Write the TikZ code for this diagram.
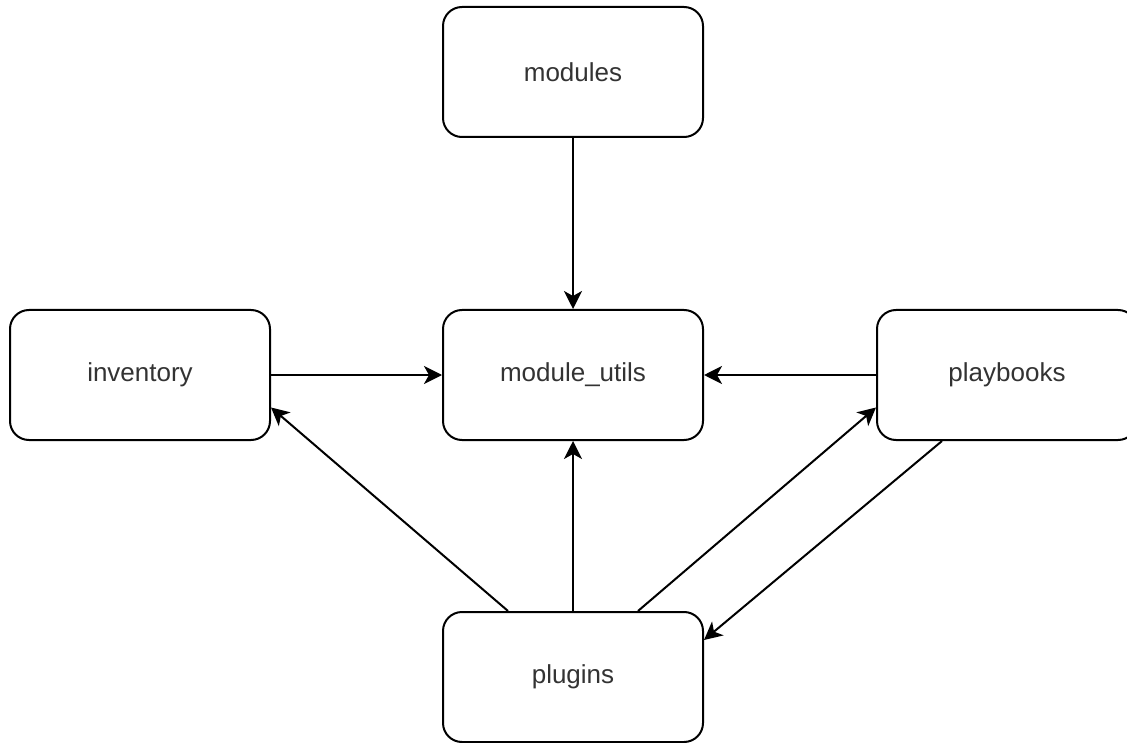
\documentclass[tikz,border=0pt]{standalone}
\usepackage{fontspec}
\setmainfont{Liberation Sans}
\usetikzlibrary{arrows.meta}
\begin{document}
\begin{tikzpicture}[x=1pt,y=-1pt,
  box/.style={draw=black, line width=2pt, rounded corners=19pt, fill=white,
    minimum width=260pt, minimum height=130pt, inner sep=0pt,
    font=\fontsize{26}{31}\selectfont, text=black!80},
  link/.style={draw=black, line width=2pt,
    -{Stealth[length=18pt,width=18pt,inset=5pt]}}]
\useasboundingbox (0,0) rectangle (1127,743);

% packages of the collection
\node[box] (modules)   at (573,72)   {modules};
\node[box] (utils)     at (573,375)  {module\_utils};
\node[box] (inventory) at (140,375)  {inventory};
\node[box] (playbooks) at (1007,375) {playbooks};
\node[box] (plugins)   at (573,677)  {plugins};

% dependencies
\draw[link] (modules.south) -- (utils.north);
\draw[link] (inventory.east) -- (utils.west);
\draw[link] (playbooks.west) -- (utils.east);
\draw[link] (plugins.north) -- (utils.south);
\draw[link] ([xshift=-65pt]plugins.north) -- ([yshift=-32.5pt]inventory.east);
\draw[link] ([xshift=65pt]plugins.north) -- ([yshift=-32.5pt]playbooks.west);
\draw[link] ([xshift=-65pt]playbooks.south) -- ([yshift=37pt]plugins.east);
\end{tikzpicture}
\end{document}
